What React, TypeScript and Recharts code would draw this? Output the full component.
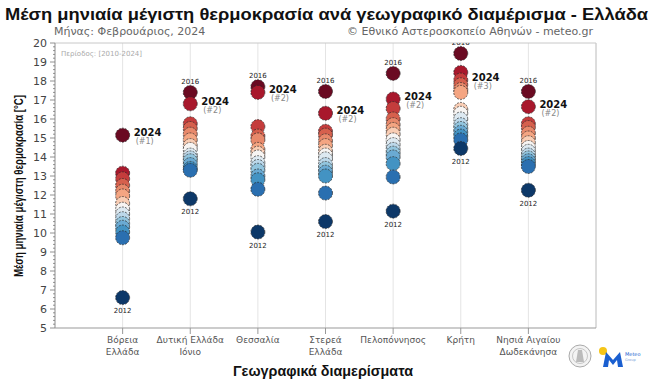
import React from "react";
import { ScatterChart, Scatter, XAxis, YAxis, CartesianGrid, ReferenceLine } from "recharts";

const REGIONS = [
  ["Βόρεια", "Ελλάδα"],
  ["Δυτική Ελλάδα", "Ιόνιο"],
  ["Θεσσαλία"],
  ["Στερεά", "Ελλάδα"],
  ["Πελοπόννησος"],
  ["Κρήτη"],
  ["Νησιά Αιγαίου", "Δωδεκάνησα"],
];

// February mean max temperature, 2010-2024, sorted warmest -> coldest
const voreiaEllada = [15.15, 13.15, 12.85, 12.5, 12.2, 11.95, 11.55, 11.25, 11.0, 10.75, 10.5, 10.3, 10.05, 9.75, 6.6];
const dytikiEllada = [17.4, 16.8, 15.75, 15.5, 15.2, 14.9, 14.6, 14.4, 14.1, 13.95, 13.8, 13.6, 13.4, 13.3, 11.8];
const thessalia = [17.7, 17.4, 15.6, 15.1, 14.9, 14.4, 14.2, 14.0, 13.7, 13.5, 13.3, 13.0, 12.8, 12.3, 10.05];
const stereaEllada = [17.45, 16.3, 15.35, 15.15, 14.85, 14.6, 14.3, 14.1, 13.9, 13.6, 13.4, 13.2, 13.0, 12.1, 10.6];
const peloponnisos = [18.4, 17.05, 16.55, 16.0, 15.7, 15.45, 15.2, 14.9, 14.65, 14.4, 14.2, 14.0, 13.65, 12.95, 11.15];
const kriti = [19.45, 18.45, 18.05, 17.8, 17.55, 17.4, 16.5, 16.3, 16.0, 15.7, 15.5, 15.3, 15.1, 14.9, 14.45];
const nisiaAigaiou = [17.45, 16.65, 15.75, 15.55, 15.25, 15.0, 14.75, 14.5, 14.3, 14.1, 13.95, 13.8, 13.65, 13.5, 12.25];

const SERIES = [voreiaEllada, dytikiEllada, thessalia, stereaEllada, peloponnisos, kriti, nisiaAigaiou];
const RANK_2024 = [1, 2, 2, 2, 2, 3, 2];
const TOP_YEAR = ["2024", "2016", "2016", "2016", "2016", "2016", "2016"];
const BOTTOM_YEAR = ["2012", "2012", "2012", "2012", "2012", "2012", "2012"];

const X_TICKS = [1, 2, 3, 4, 5, 6, 7];

// RdBu reversed, one colour per rank (1 = warmest)
const PALETTE = [
  "#6a0a22", "#a8182c", "#c43c3c", "#d6604d", "#e8896b", "#f4a582", "#f9cdb4", "#f7f4f2",
  "#dde9f1", "#bcd8ea", "#92c5de", "#6aaad3", "#4393c3", "#2a6fb0", "#0d3868",
];

const FONT = "DejaVu Sans, Verdana, sans-serif";
const ARIAL = "Liberation Sans, Arial, sans-serif";

const points = SERIES.flatMap((vals, i) => vals.map((v, j) => ({ x: i + 1, y: v, rank: j })));

const labels = SERIES.flatMap((vals, i) => {
  const out: any[] = [{ x: i + 1, y: vals[RANK_2024[i] - 1], kind: "cur", rank: RANK_2024[i] }];
  if (RANK_2024[i] !== 1) out.push({ x: i + 1, y: vals[0], kind: "top", text: TOP_YEAR[i] });
  out.push({ x: i + 1, y: vals[vals.length - 1], kind: "bottom", text: BOTTOM_YEAR[i] });
  return out;
});

// major ticks every degree, minor every 0.2
const yTicks: number[] = [];
for (let t = 5; t <= 20.001; t += 0.2) yTicks.push(Math.round(t * 10) / 10);

const Dot = (props: any) => {
  const { cx, cy, payload } = props;
  return (
    <circle cx={cx} cy={cy} r={7} fill={PALETTE[payload.rank]} stroke="#2a2a2a"
      strokeWidth={0.7} strokeDasharray="2 1.2" />
  );
};

const LabelMark = (props: any) => {
  const { cx, cy, payload } = props;
  if (payload.kind === "cur") {
    return (
      <g fontFamily={FONT}>
        <text x={cx + 11} y={cy + 1} fontSize={10} fontWeight="bold" fill="#111">2024</text>
        <text x={cx + 13} y={cy + 9} fontSize={8} fill="#888">(#{payload.rank})</text>
      </g>
    );
  }
  const dy = payload.kind === "top" ? -8.5 : 15.5;
  return (
    <text x={cx} y={cy + dy} textAnchor="middle" fontSize={7} fill="#222" fontFamily={FONT}>
      {payload.text}
    </text>
  );
};

const YTick = (props: any) => {
  const { x, y, payload } = props;
  const v = payload.value;
  const major = Math.abs(v - Math.round(v)) < 1e-6;
  return (
    <g>
      <line x1={x - (major ? 5 : 2)} x2={x} y1={y} y2={y} stroke="#777" strokeWidth={0.8} />
      {major && (
        <text x={x - 8} y={y + 4} textAnchor="end" fontSize={11} fill="#444" fontFamily={FONT}>{v}</text>
      )}
    </g>
  );
};

const XTick = (props: any) => {
  const { x, y, payload } = props;
  const lines = REGIONS[payload.value - 1] || [];
  return (
    <text x={x} y={y + 7} textAnchor="middle" fontSize={9} fill="#555" fontFamily={FONT}>
      {lines.map((l, k) => (
        <tspan key={k} x={x} dy={k === 0 ? 0 : 11.5}>{l}</tspan>
      ))}
    </text>
  );
};

export default function App() {
  return (
    <div style={{ position: "absolute", left: 0, top: 0, width: 654, height: 386, background: "#fff" }}>
      <ScatterChart width={654} height={386} margin={{ top: 43, right: 58, bottom: 0, left: 0 }}>
        <CartesianGrid horizontal={false} stroke="#e4e4e4" />
        <XAxis type="number" dataKey="x" domain={[0, 8]} ticks={X_TICKS} interval={0} height={58}
          tick={<XTick />} tickSize={6} stroke="#999" />
        <YAxis type="number" dataKey="y" domain={[5, 20]} ticks={yTicks} interval={0} width={55}
          tick={<YTick />} tickLine={false} tickSize={0} tickMargin={0} stroke="#999" allowDataOverflow />
        <ReferenceLine y={20} stroke="#c8c8c8" />
        <ReferenceLine x={8} stroke="#c8c8c8" />
        <Scatter data={points} shape={<Dot />} isAnimationActive={false} />
        <Scatter data={labels} shape={<LabelMark />} isAnimationActive={false} />
      </ScatterChart>
      <svg width={654} height={386} style={{ position: "absolute", left: 0, top: 0, pointerEvents: "none" }}>
        <text x={5} y={20} fontSize={16} fontWeight="bold" fill="#111" fontFamily={ARIAL}
          textLength={643} lengthAdjust="spacingAndGlyphs">
          Μέση μηνιαία μέγιστη θερμοκρασία ανά γεωγραφικό διαμέρισμα - Ελλάδα
        </text>
        <text x={54} y={35} fontSize={11} fill="#666" fontFamily={FONT}>Μήνας: Φεβρουάριος, 2024</text>
        <text x={593} y={35} fontSize={11} fill="#666" fontFamily={FONT} textAnchor="end">
          © Εθνικό Αστεροσκοπείο Αθηνών - meteo.gr
        </text>
        <text x={61} y={56} fontSize={7} fill="#aaa" fontFamily={FONT}>Περίοδος: [2010-2024]</text>
        <text transform="translate(23,186) rotate(-90)" textAnchor="middle" fontSize={12.5} fontWeight="bold"
          fill="#111" fontFamily={ARIAL} textLength={182} lengthAdjust="spacingAndGlyphs">
          Μέση μηνιαία μέγιστη θερμοκρασία [°C]
        </text>
        <text x={323} y={376} textAnchor="middle" fontSize={14.5} fontWeight="bold" fill="#111"
          fontFamily={ARIAL} textLength={180} lengthAdjust="spacingAndGlyphs">
          Γεωγραφικά διαμερίσματα
        </text>
        <circle cx={580} cy={356} r={11} fill="#f3f3f3" stroke="#aaa" strokeWidth={1} />
        <circle cx={580} cy={356} r={7.5} fill="none" stroke="#bbb" strokeWidth={0.8} />
        <path d="M576 362 L578 350 L582 350 L584 362 Z" fill="#bbb" />
        <circle cx={603} cy={351} r={4} fill="#f5c518" />
        <path d="M603 367 L606 352 L613 360 L620 352 L623 367 L618 367 L617 360 L613 365 L609 360 L608 367 Z" fill="#1a5fd0" />
        <text x={625} y={356} fontSize={5} fill="#1a5fd0" fontFamily={FONT}>Meteo</text>
        <text x={625} y={361} fontSize={3.5} fill="#7a9ed8" fontFamily={FONT}>Group</text>
      </svg>
    </div>
  );
}
